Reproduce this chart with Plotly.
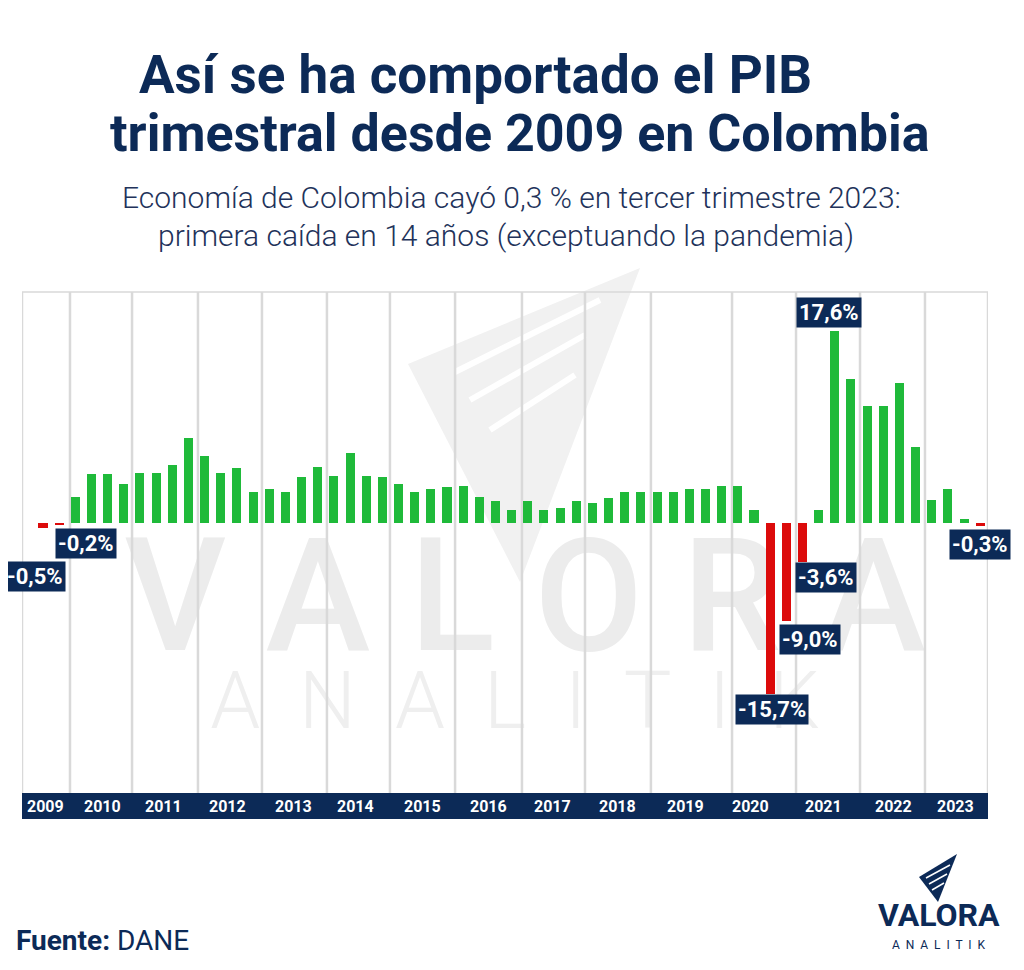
import plotly.graph_objects as go

# Variación anual del PIB trimestral (%), 2009-T1 a 2023-T3
years = list(range(2009, 2024))
quarters = [f"{y}-T{q}" for y in years for q in range(1, 5)][:59]
growth = [
    -0.5, -0.2, 2.4, 4.5,
    4.5, 3.6, 4.6, 4.6,
    5.3, 7.8, 6.1, 4.6,
    5.0, 2.8, 3.1, 2.8,
    4.2, 5.1, 4.3, 6.4,
    4.3, 4.2, 3.6, 2.8,
    3.1, 3.3, 3.4, 2.4,
    2.0, 1.2, 2.0, 1.2,
    1.4, 2.0, 1.8, 2.3,
    2.8, 2.8, 2.8, 2.8,
    3.1, 3.1, 3.4, 3.4,
    1.2, -15.7, -9.0, -3.6,
    1.2, 17.6, 13.2, 10.7,
    10.7, 12.8, 7.0, 2.1,
    3.1, 0.4, -0.3,
]
labelled = [0, 1, 45, 46, 47, 49, 58]

NAVY = "#0c2a57"
GREEN = "#1fba3a"
RED = "#dc0b0b"
GRID = "#d9d9d9"
SANS = "Roboto, Liberation Sans, sans-serif"

# the page body adds an 8px margin, so the figure is a bit smaller
OFF = 8
W, H = 1024 - 2 * OFF, 970 - 2 * OFF
# plot area in page pixels
L, R, T, B = 22, 988, 292, 793


def px(x):
    return (x - L) / (R - L)


def py(y):
    return (B - y) / (B - T)


def text(x, y, s, size, color=NAVY, weight=None, family=SANS, xanchor="center"):
    f = dict(family=family, size=size, color=color)
    if weight:
        f["weight"] = weight
    return dict(x=px(x), y=py(y), xref="paper", yref="paper", text=s, showarrow=False,
                xanchor=xanchor, yanchor="middle", font=f)


xs = list(range(len(growth)))
colors = [GREEN if v >= 0 else RED for v in growth]

fig = go.Figure()
fig.add_trace(go.Bar(x=xs, y=growth, marker_color=colors, marker_line_width=0,
                     width=0.56, customdata=quarters,
                     hovertemplate="%{customdata}: %{y:.1f}%<extra></extra>"))

shapes = []
# faint watermark (drawn below the bars)
shapes.append(dict(type="path", xref="paper", yref="paper", layer="below",
                   path=f"M {px(408)} {py(364)} L {px(640)} {py(268)} L {px(520)} {py(582)} Z",
                   fillcolor="#f1f1f1", line_width=0))
for a, b in [((455, 372), (600, 300)), ((470, 400), (585, 335)), ((490, 430), (575, 375))]:
    shapes.append(dict(type="line", xref="paper", yref="paper", layer="below",
                       x0=px(a[0]), y0=py(a[1]), x1=px(b[0]), y1=py(b[1]),
                       line=dict(color="white", width=6)))
shapes.append(dict(type="rect", xref="paper", yref="paper", layer="below",
                   x0=px(110), x1=px(940), y0=py(650), y1=py(520), line_width=0,
                   fillcolor="rgba(0,0,0,0)",
                   label=dict(text="V A L O R A",
                              font=dict(size=158, color="#ececec", family=SANS, weight=500))))
shapes.append(dict(type="rect", xref="paper", yref="paper", layer="below",
                   x0=px(200), x1=px(830), y0=py(735), y1=py(655), line_width=0,
                   fillcolor="rgba(0,0,0,0)",
                   label=dict(text="A  N  A  L  I  T  I  K",
                              font=dict(size=80, color="#efefef", family=SANS, weight=300))))

# decorative year columns
bounds = [-1.30, 1.67, 5.51, 9.59, 13.55, 17.57, 21.47, 25.5, 29.64, 33.54,
          37.62, 42.64, 46.6, 50.56, 54.58, 58.48]
for b in bounds:
    shapes.append(dict(type="line", xref="x", yref="paper", layer="below",
                       x0=b, x1=b, y0=0, y1=1, line=dict(color=GRID, width=2.5)))
shapes.append(dict(type="line", xref="paper", yref="paper", layer="below",
                   x0=0, x1=1, y0=1, y1=1, line=dict(color=GRID, width=1.5)))
# navy year band
shapes.append(dict(type="rect", xref="paper", yref="paper", x0=0, x1=1,
                   y0=py(819), y1=0, fillcolor=NAVY, line_width=0))

# logo icon
shapes.append(dict(type="path", xref="paper", yref="paper",
                   path=f"M {px(919)} {py(877)} L {px(957)} {py(854)} L {px(938)} {py(902)} Z",
                   fillcolor=NAVY, line_width=0))
for a, b in [((926, 878), (950, 865)), ((929, 884), (947, 874)), ((932, 890), (944, 883))]:
    shapes.append(dict(type="line", xref="paper", yref="paper",
                       x0=px(a[0]), y0=py(a[1]), x1=px(b[0]), y1=py(b[1]),
                       line=dict(color="white", width=1.5)))

annotations = []
year_centers = [45, 102, 163, 227, 293, 355, 422, 488, 552, 617, 685, 750, 823, 893, 955]
for yr, c in zip(years, year_centers):
    annotations.append(text(c, 806, f"<b>{yr}</b>", 16, color="white"))

# value tags: offsets (px) from the bar end
tag_offsets = {0: (-8, -48), 1: (27, -18), 45: (2, -16), 46: (24, -19),
               47: (24, -15), 49: (-6, 19), 58: (0, -18)}
for i in labelled:
    dx, dy = tag_offsets[i]
    txt = f"{growth[i]:.1f}%".replace(".", ",")
    annotations.append(dict(x=i, y=growth[i], xref="x", yref="y", text=f"<b>{txt}</b>",
                            showarrow=False, xanchor="center", yanchor="middle",
                            xshift=dx, yshift=dy, bgcolor=NAVY, borderpad=2,
                            font=dict(family=SANS, size=22, color="white")))

# titles and footer
annotations += [
    text(475, 75, "<b>Así se ha comportado el PIB</b>", 53),
    text(520, 133, "<b>trimestral desde 2009 en Colombia</b>", 52),
    text(511, 197, "Economía de Colombia cayó 0,3 % en tercer trimestre 2023:", 30,
         color="#22325a", weight=300),
    text(506, 236, "primera caída en 14 años (exceptuando la pandemia)", 30,
         color="#22325a", weight=300),
    text(14, 940, "<b>Fuente:</b> DANE", 28, xanchor="left"),
    text(939, 915, "<b>VALORA</b>", 32),
    text(939, 945, "A  N  A  L  I  T  I  K", 12),
]

fig.update_layout(
    width=W, height=H,
    margin=dict(l=L - OFF, r=W - (R - OFF), t=T - OFF, b=H - (B - OFF)),
    paper_bgcolor="white", plot_bgcolor="rgba(0,0,0,0)",
    showlegend=False, bargap=0,
    xaxis=dict(range=[-1.30, 58.48], visible=False, fixedrange=True),
    yaxis=dict(range=[-24.8, 21.2], visible=False, fixedrange=True),
    shapes=shapes, annotations=annotations,
)

fig.write_html("out.html")
